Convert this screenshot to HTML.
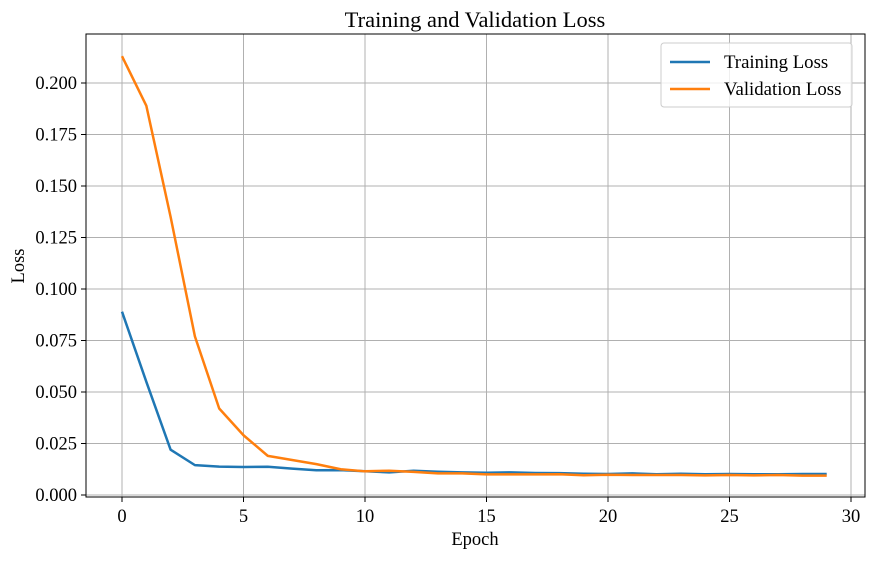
<!DOCTYPE html>
<html><head><meta charset="utf-8"><style>
html,body{margin:0;padding:0;background:#fff;}
svg text{font-family:"Liberation Serif","DejaVu Serif",serif;fill:#000;}
</style></head><body>
<svg id="chart" width="872" height="558" xmlns="http://www.w3.org/2000/svg">
<g id="grid"></g>
<g id="lines"></g>
<rect x="86" y="34" width="779" height="463" fill="none" stroke="#000" stroke-width="1"/>
<g id="ticks"></g>
<text x="475" y="27" font-size="22.5" text-anchor="middle">Training and Validation Loss</text>
<text x="475" y="545" font-size="18.5" text-anchor="middle">Epoch</text>
<text x="24" y="266" font-size="18.5" text-anchor="middle" transform="rotate(-90 24 266)">Loss</text>
<g>
<rect x="661" y="43" width="191" height="64" rx="3" fill="#fff" fill-opacity="0.8" stroke="#ccc"/>
<line x1="670" y1="62" x2="710" y2="62" stroke="#1f77b4" stroke-width="2.5"/>
<text x="724" y="68" font-size="18.8">Training Loss</text>
<line x1="670" y1="89" x2="710" y2="89" stroke="#ff7f0e" stroke-width="2.5"/>
<text x="724" y="95" font-size="18.8">Validation Loss</text>
</g>
</svg>
<script>
const epochs = Array.from({length:30},(_,i)=>i);
const trainLoss = [0.089,0.055,0.022,0.0145,0.0138,0.0136,0.0137,0.0128,0.012,0.0121,0.0115,0.011,0.0118,0.0113,0.011,0.0108,0.011,0.0107,0.0106,0.0103,0.0102,0.0105,0.0101,0.0103,0.0101,0.0102,0.0101,0.0101,0.0102,0.0102];
const valLoss = [0.213,0.189,0.135,0.077,0.042,0.029,0.019,0.017,0.015,0.0125,0.0115,0.0118,0.0112,0.0105,0.0105,0.010,0.010,0.010,0.0101,0.0096,0.0098,0.0097,0.0097,0.0097,0.0095,0.0097,0.0095,0.0097,0.0094,0.0094];
const xTicks = [0,5,10,15,20,25,30];
const yTicks = [0,0.025,0.05,0.075,0.1,0.125,0.15,0.175,0.2];
const yTickLabels = ["0.000","0.025","0.050","0.075","0.100","0.125","0.150","0.175","0.200"];

const NS="http://www.w3.org/2000/svg";
const xs = v => 122 + v*(851-122)/30;
const ys = v => 495 - v*(495-83)/0.2;
function mk(tag,attrs,parent){const e=document.createElementNS(NS,tag);for(const k in attrs)e.setAttribute(k,attrs[k]);parent.appendChild(e);return e;}
const grid=document.getElementById('grid'), ticks=document.getElementById('ticks'), lines=document.getElementById('lines');
xTicks.forEach(t=>{
  const x=xs(t);
  const g=mk('line',{x1:x,x2:x,y1:34,y2:497,stroke:'#b0b0b0','stroke-width':1},grid);
  
  
  const tk=mk('line',{x1:x,x2:x,y1:497,y2:502,stroke:'#000'},ticks);
  
  
  const tx=mk('text',{x:x,y:522,'font-size':18.5,'text-anchor':'middle'},ticks);
  tx.textContent=t;
  
  
});
yTicks.forEach((t,i)=>{
  const y=ys(t);
  const g=mk('line',{x1:86,x2:865,y1:y,y2:y,stroke:'#b0b0b0','stroke-width':1},grid);
  
  
  const tk=mk('line',{x1:81,x2:86,y1:y,y2:y,stroke:'#000'},ticks);
  
  
  const tx=mk('text',{x:77,y:y+6,'font-size':18.5,'text-anchor':'end'},ticks);
  tx.textContent=yTickLabels[i];
  
  
});
function series(vals,color,name){
  const p=mk('polyline',{points:vals.map((v,i)=>xs(epochs[i])+','+ys(v)).join(' '),fill:'none',stroke:color,'stroke-width':2.5,'stroke-linejoin':'round'},lines);
  
  
}
series(trainLoss,'#1f77b4','training-loss-line');
series(valLoss,'#ff7f0e','validation-loss-line');
</script>
</body></html>
